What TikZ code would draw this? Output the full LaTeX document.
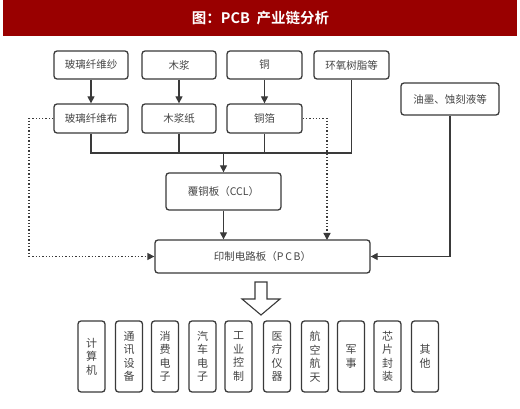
\documentclass[tikz,border=0pt]{standalone}
\usepackage{fontspec}
\newfontfamily\cjk{Noto Sans CJK SC}
\newfontfamily\cjkb{Noto Sans CJK SC Bold}
\usetikzlibrary{arrows.meta}
\definecolor{titlered}{HTML}{990000}
\definecolor{boxline}{HTML}{3A3A3A}
\definecolor{boxtext}{HTML}{444444}
\tikzset{
  box/.style={draw=boxline, line width=1.3pt, rounded corners=3pt, fill=white,
    inner sep=0pt, text=boxtext, font=\cjk\fontsize{10.5}{13}\selectfont},
  vbox/.style={box, minimum width=27pt, minimum height=71pt, align=center,
    font=\cjk\fontsize{11}{13.5}\selectfont},
  conn/.style={draw=boxline, line width=1.3pt},
  arr/.style={conn, -{Triangle[length=7pt,width=7pt]}},
  dotarr/.style={draw=boxline, line width=1.3pt, dotted, -{Triangle[length=7pt,width=7pt]}},
  dotline/.style={draw=boxline, line width=1.3pt, dotted}
}
\begin{document}
\begin{tikzpicture}[x=1pt,y=-1pt]
\useasboundingbox (0,0) rectangle (520,409);
\fill[white] (0,0) rectangle (520,409);
\fill[titlered] (3,0) rectangle (517,36);
\node[text=white, font=\cjkb\fontsize{14.5}{16}\selectfont] (title) at (260.5,18) {图：PCB\ \ 产业链分析};

\node[box, minimum width=74pt, minimum height=28pt] (g1) at (91,65) {玻璃纤维纱};
\node[box, minimum width=74pt, minimum height=28pt] (m1) at (179,65) {木浆};
\node[box, minimum width=75pt, minimum height=28pt] (c1) at (264.5,65) {铜};
\node[box, minimum width=75pt, minimum height=28pt] (e1) at (351.5,65) {环氧树脂等};
\node[box, minimum width=98pt, minimum height=32pt] (y1) at (450,99) {油墨、蚀刻液等};

\node[box, minimum width=74pt, minimum height=29pt] (g2) at (91,118.5) {玻璃纤维布};
\node[box, minimum width=74pt, minimum height=29pt] (m2) at (179,118.5) {木浆纸};
\node[box, minimum width=75pt, minimum height=29pt] (c2) at (264.5,118.5) {铜箔};

\node[box, minimum width=115pt, minimum height=37pt] (ccl) at (223.5,191.5) {覆铜板（CCL）};
\node[box, minimum width=215pt, minimum height=33pt] (pcb) at (262.5,256.5) {印制电路板（P\,C\,B）};

\draw[arr] (g1) -- (g2);
\draw[arr] (m1) -- (m2);
\draw[arr] (c1) -- (c2);

\coordinate (busL) at (91,153);
\coordinate (busR) at (351.5,153);
\draw[conn] (g2.south) -- (busL) -- (busR) -- (e1.south);
\draw[conn] (m2.south) -- (m2.south |- busL);
\draw[conn] (c2.south) -- (c2.south |- busL);
\draw[arr] (ccl.north |- busL) -- (ccl.north);
\draw[arr] (ccl.south) -- (ccl.south |- pcb.north);

\coordinate (dl) at (29,256.5);
\coordinate (dr) at (327,240);
\draw[dotline] (g2.west) -| (dl);
\draw[dotarr] (dl) -- (pcb.west);
\draw[dotarr] (c2.east) -| (dr);
\draw[arr] (y1.south) |- (pcb.east);

\draw[draw=boxline, line width=1.1pt, fill=white, line join=miter]
  (255,282) -- (267,282) -- (267,299) -- (280,299) -- (261,315) -- (242,299) -- (255,299) -- cycle;

\node[vbox] (b1) at (91.5,356.5) {计\\算\\机};
\node[vbox] (b2) at (129,356.5) {通\\讯\\设\\备};
\node[vbox] (b3) at (165,356.5) {消\\费\\电\\子};
\node[vbox] (b4) at (202.5,356.5) {汽\\车\\电\\子};
\node[vbox] (b5) at (238.5,356.5) {工\\业\\控\\制};
\node[vbox] (b6) at (277,356.5) {医\\疗\\仪\\器};
\node[vbox] (b7) at (315,356.5) {航\\空\\航\\天};
\node[vbox] (b8) at (351,356.5) {军\\事};
\node[vbox] (b9) at (387.5,356.5) {芯\\片\\封\\装};
\node[vbox] (b10) at (425,356.5) {其\\他};
\end{tikzpicture}
\end{document}
